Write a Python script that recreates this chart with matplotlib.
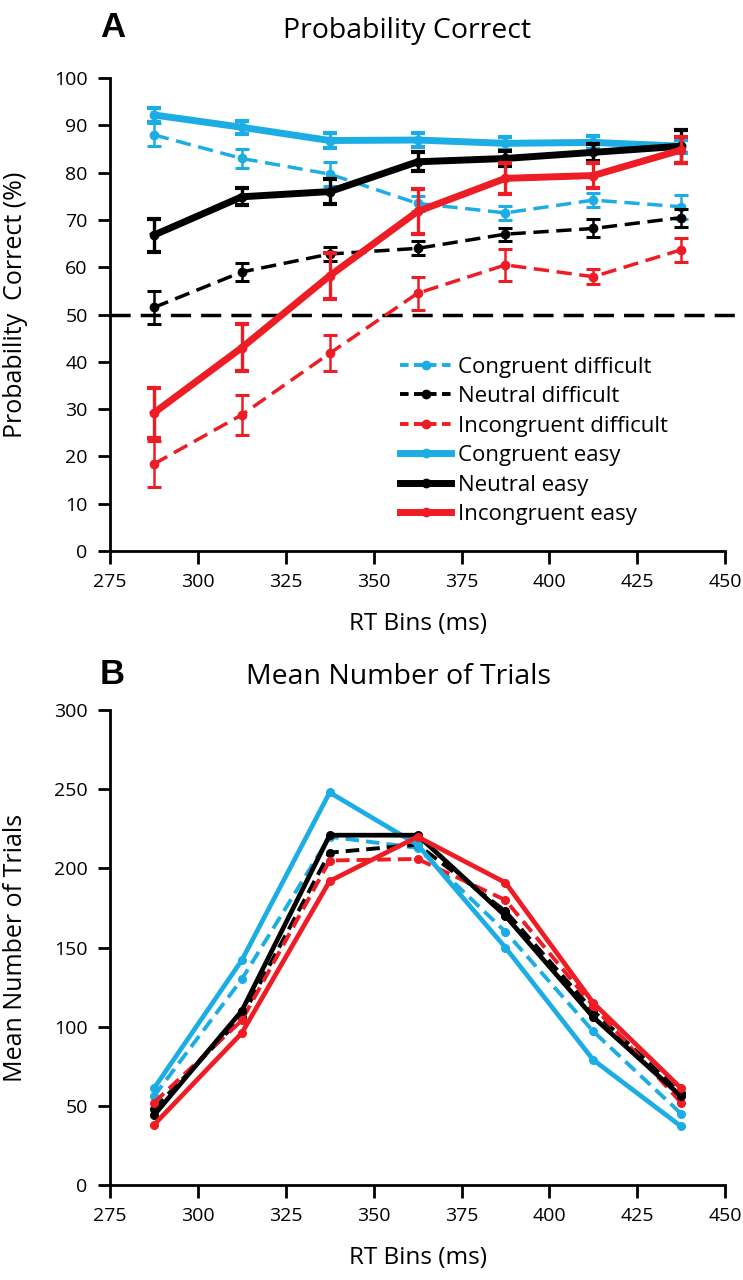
import numpy as np
import matplotlib
matplotlib.use("Agg")
import matplotlib.pyplot as plt
from matplotlib.lines import Line2D

plt.rcParams['font.family'] = ['Open Sans', 'DejaVu Sans']

# RT bin centres (ms)
rt_bins = [287.5, 312.5, 337.5, 362.5, 387.5, 412.5, 437.5]

labels = ["Congruent difficult", "Neutral difficult", "Incongruent difficult",
          "Congruent easy", "Neutral easy", "Incongruent easy"]

# panel A: probability correct (%) and error bars
pc_cong_diff = [88, 83, 79.7, 73.5, 71.5, 74.2, 72.8]
pc_neut_diff = [51.5, 59, 62.8, 64, 67, 68.2, 70.5]
pc_incg_diff = [18.4, 28.8, 41.8, 54.5, 60.5, 58, 63.7]
pc_cong_easy = [92.2, 89.6, 86.8, 86.9, 86.2, 86.4, 85.6]
pc_neut_easy = [66.8, 74.9, 76, 82.3, 83, 84.3, 85.6]
pc_incg_easy = [29.2, 43, 58.2, 71.8, 78.8, 79.4, 84.8]

err_cong_diff = [2.4, 2.1, 2.6, 1.6, 1.5, 1.4, 2.5]
err_neut_diff = [3.4, 1.9, 1.4, 1.5, 1.4, 1.9, 1.9]
err_incg_diff = [4.9, 4.2, 3.8, 3.5, 3.3, 1.6, 2.5]
err_cong_easy = [1.4, 1.4, 1.5, 1.4, 1.4, 1.4, 1.4]
err_neut_easy = [3.5, 1.8, 2.7, 2, 1.5, 1.8, 3.5]
err_incg_easy = [5.2, 4.9, 4.9, 4.7, 3.3, 2.7, 2.7]

# panel B: mean number of trials
nt_cong_diff = [56, 130, 220, 213, 160, 97, 45]
nt_neut_diff = [48, 106, 210, 215, 173, 110, 58]
nt_incg_diff = [52, 104, 205, 206, 180, 113, 52]
nt_cong_easy = [61, 142, 248, 215, 150, 79, 37]
nt_neut_easy = [44, 110, 221, 221, 170, 106, 56]
nt_incg_easy = [38, 96, 192, 220, 191, 115, 61]

cyan = '#1CADE4'
red = '#EE1C24'
black = '#000000'
colors = [cyan, black, red, cyan, black, red]
dash_a = (0, (4.4, 2.2))

fig = plt.figure(figsize=(7.43, 12.8), dpi=100)
axA = fig.add_axes([0.148, 0.5695, 0.828, 0.3695])
axB = fig.add_axes([0.148, 0.0742, 0.828, 0.371])

# ---- panel A
axA.axhline(50, xmin=0, xmax=1.025, color='black', ls=(0, (5.8, 2.9)), lw=2.5,
            zorder=1, clip_on=False)

pc_vals = [pc_cong_diff, pc_neut_diff, pc_incg_diff,
           pc_cong_easy, pc_neut_easy, pc_incg_easy]
pc_errs = [err_cong_diff, err_neut_diff, err_incg_diff,
           err_cong_easy, err_neut_easy, err_incg_easy]

for i, (vals, errs) in enumerate(zip(pc_vals, pc_errs)):
    easy = i >= 3
    axA.errorbar(rt_bins, vals, yerr=errs, color=colors[i],
                 ls='-' if easy else dash_a, lw=5 if easy else 2.5,
                 marker='o', ms=6, elinewidth=2.4 if easy else 1.8,
                 capsize=5, capthick=3 if easy else 2.2, zorder=3 + i)

handles = []
for i, lab in enumerate(labels):
    easy = i >= 3
    handles.append(Line2D([], [], color=colors[i], ls='-' if easy else (0, (2.2, 1.4)),
                          lw=5 if easy else 2.8, marker='o', ms=6, label=lab))
axA.legend(handles=handles, loc='center left', bbox_to_anchor=(0.472, 0.233),
           frameon=False, fontsize=16, handlelength=2.3, handletextpad=0.3,
           labelspacing=0.38, borderpad=0, borderaxespad=0)

# ---- panel B
nt_vals = [nt_cong_diff, nt_neut_diff, nt_incg_diff,
           nt_cong_easy, nt_neut_easy, nt_incg_easy]
for i, vals in enumerate(nt_vals):
    easy = i >= 3
    axB.plot(rt_bins, vals, color=colors[i], ls='-' if easy else (0, (3.5, 1.8)),
             lw=3.4 if easy else 2.8, marker='o', ms=5.5, zorder=3 + i)

for ax in (axA, axB):
    ax.set_xlim(275, 450)
    ax.set_xticks(np.arange(275, 451, 25))
    ax.spines['top'].set_visible(False)
    ax.spines['right'].set_visible(False)
    ax.spines['left'].set_linewidth(2)
    ax.spines['bottom'].set_linewidth(2)
    ax.tick_params(direction='out', length=9, width=2, labelsize=14, pad=7)
    ax.set_xlabel("RT Bins (ms)", fontsize=17.5, labelpad=15)

axA.set_ylim(0, 100)
axA.set_yticks(np.arange(0, 101, 10))
axA.set_ylabel("Probability  Correct (%)", fontsize=18)
axA.yaxis.set_label_coords(-0.134, 0.52)

axB.set_ylim(0, 300)
axB.set_yticks(np.arange(0, 301, 50))
axB.set_ylabel("Mean Number of Trials", fontsize=18)
axB.yaxis.set_label_coords(-0.134, 0.5)

fig.text(407 / 743, 1 - 38 / 1280, "Probability Correct", fontsize=20.5,
         ha='center', va='baseline')
fig.text(398 / 743, 1 - 684 / 1280, "Mean Number of Trials", fontsize=20.5,
         ha='center', va='baseline')

fig.text(100 / 743, 1 - 37 / 1280, "A", fontsize=25, fontweight='bold',
         family=['Liberation Sans', 'DejaVu Sans'], ha='left', va='baseline')
fig.text(100 / 743, 1 - 684 / 1280, "B", fontsize=25, fontweight='bold',
         family=['Liberation Sans', 'DejaVu Sans'], ha='left', va='baseline')

fig.savefig("out.png", dpi=100)
